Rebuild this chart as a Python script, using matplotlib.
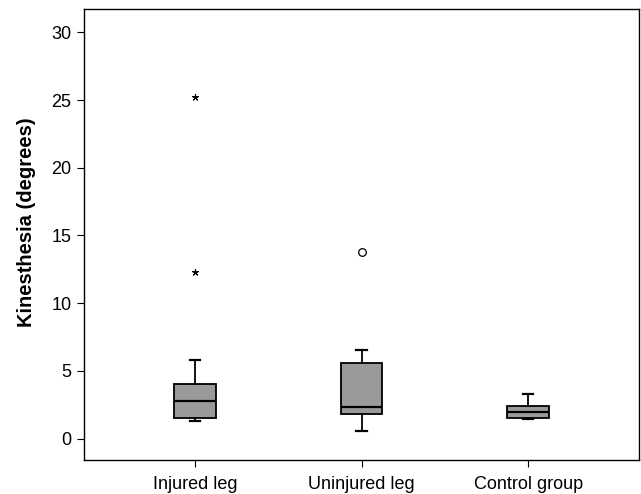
import matplotlib
matplotlib.use("Agg")
import matplotlib.pyplot as plt

plt.rcParams['font.family'] = ['Liberation Sans', 'DejaVu Sans']

categories = ["Injured leg", "Uninjured leg", "Control group"]
q1 = [1.56, 1.79, 1.56]
med = [2.79, 2.32, 1.98]
q3 = [4.05, 5.55, 2.42]
whislo = [1.29, 0.55, 1.42]
whishi = [5.82, 6.55, 3.31]
extreme_cat = [1, 1]
extreme_val = [25.2, 12.3]
outlier_cat = [2]
outlier_val = [13.8]
yticks = [0, 5, 10, 15, 20, 25, 30]

stats = []
for i, c in enumerate(categories):
    stats.append(dict(label=c, q1=q1[i], med=med[i], q3=q3[i],
                      whislo=whislo[i], whishi=whishi[i], fliers=[]))

fig = plt.figure(figsize=(6.41, 4.94), dpi=100)
ax = fig.add_axes([84/641, 1 - 460.3/494, (639-84)/641, (460.3-9.3)/494])

positions = list(range(1, len(categories) + 1))
ax.bxp(stats, positions=positions, widths=0.25, patch_artist=True,
       showfliers=False, capwidths=0.065,
       boxprops=dict(facecolor='#9a9a9a', edgecolor='black', linewidth=1.3),
       medianprops=dict(color='black', linewidth=1.6),
       whiskerprops=dict(color='black', linewidth=1.3),
       capprops=dict(color='black', linewidth=1.6))

ax.plot(extreme_cat, extreme_val, linestyle='none', marker=(5, 2, 0),
        markersize=5, color='black', markeredgewidth=0.8)
ax.plot(outlier_cat, outlier_val, linestyle='none', marker='o',
        markersize=5.5, markerfacecolor='white', markeredgecolor='black',
        markeredgewidth=0.9)

ax.set_xlim(0.334, 3.666)
ax.set_ylim(-1.6, 31.7)
ax.set_yticks(yticks)
ax.set_xticks(positions)
ax.set_xticklabels(categories)
ax.tick_params(axis='both', direction='out', length=5, width=0.8,
               labelsize=13, colors='black')
ax.tick_params(axis='y', pad=4)
ax.tick_params(axis='x', pad=6)
ax.set_ylabel("Kinesthesia (degrees)", fontsize=14.5, fontweight='bold')
ax.yaxis.set_label_coords(-0.087, 0.529)
for s in ax.spines.values():
    s.set_linewidth(1.0)

fig.savefig("out.png", dpi=100)
